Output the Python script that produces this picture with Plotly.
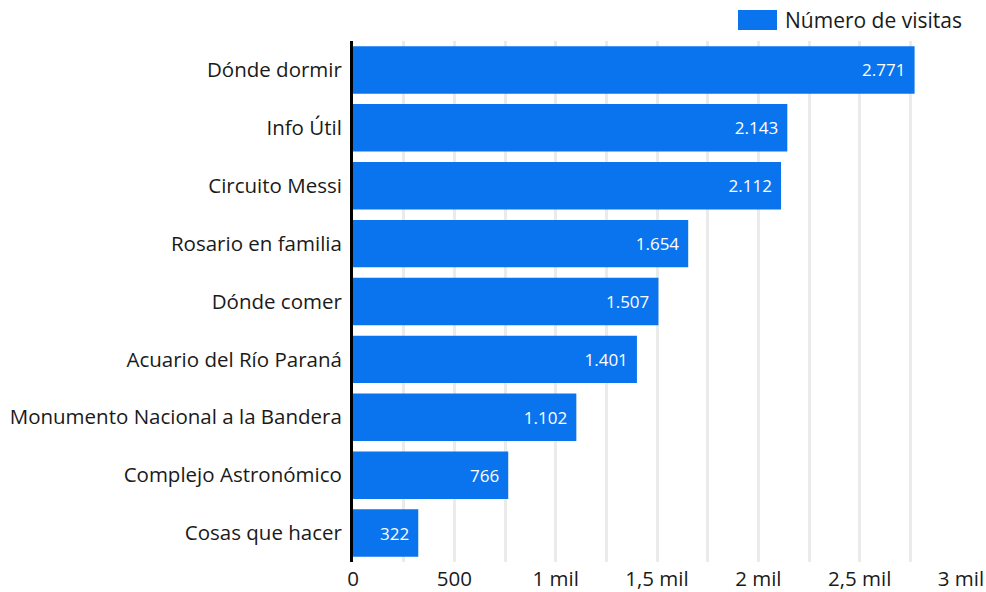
import plotly.graph_objects as go

categories = [
    "Dónde dormir",
    "Info Útil",
    "Circuito Messi",
    "Rosario en familia",
    "Dónde comer",
    "Acuario del Río Paraná",
    "Monumento Nacional a la Bandera",
    "Complejo Astronómico",
    "Cosas que hacer",
]
visits = [2771, 2143, 2112, 1654, 1507, 1401, 1102, 766, 322]
series_name = "Número de visitas"
tick_vals = [0, 500, 1000, 1500, 2000, 2500, 3000]
tick_text = ["0", "500", "1 mil", "1,5 mil", "2 mil", "2,5 mil", "3 mil"]

BLUE = "#0a74ee"
FONT = "Open Sans"
TXT = "#1a1a1a"
LBL = 20.5

# plot area in page pixels
PL, PR, PT, PB = 353, 961, 41, 562
W, H = 986, 592

fig = go.Figure()
fig.add_trace(go.Bar(
    x=visits,
    y=categories,
    orientation="h",
    name=series_name,
    marker=dict(color=BLUE, line=dict(width=0)),
    texttemplate="%{x:,}\u00a0\u200a",
    textposition="inside",
    insidetextanchor="end",
    textfont=dict(color="white", size=17, family=FONT),
    showlegend=False,
    hoverinfo="x+y",
))

fig.update_layout(
    width=W,
    height=H,
    margin=dict(l=PL, r=W - PR, t=PT, b=H - PB, autoexpand=False),
    plot_bgcolor="white",
    paper_bgcolor="white",
    font=dict(family=FONT, size=LBL, color=TXT),
    separators=",.",
    bargap=0.18,
    xaxis=dict(
        range=[0, 3000],
        tickvals=tick_vals,
        ticktext=tick_text,
        showgrid=True,
        gridcolor="#ebebeb",
        gridwidth=3,
        minor=dict(dtick=250, tick0=0, showgrid=True, gridcolor="#ebebeb", gridwidth=3),
        zeroline=False,
        ticks="",
        ticklabelstandoff=2,
        tickfont=dict(size=LBL),
        automargin=False,
        fixedrange=True,
    ),
    yaxis=dict(
        autorange="reversed",
        showline=True,
        linecolor="black",
        linewidth=3,
        ticks="outside",
        ticklen=4,
        tickcolor="rgba(0,0,0,0)",
        tickfont=dict(size=LBL),
        automargin=False,
        fixedrange=True,
    ),
)

# legend swatch drawn like the reference
pw, ph = PR - PL, PB - PT
fig.add_shape(type="rect", xref="paper", yref="paper",
              x0=(738 - PL) / pw, x1=(777 - PL) / pw,
              y0=(PB - 30) / ph, y1=(PB - 10) / ph,
              fillcolor=BLUE, line=dict(width=0))
fig.add_annotation(xref="paper", yref="paper",
                   x=(783 - PL) / pw, y=(PB - 20) / ph,
                   text=series_name, showarrow=False,
                   xanchor="left", yanchor="middle",
                   font=dict(size=21, family=FONT, color=TXT))

fig.write_html(
    "out.html",
    config={"displayModeBar": False},
    post_script="document.body.style.margin='0';document.body.style.overflow='hidden';",
)
